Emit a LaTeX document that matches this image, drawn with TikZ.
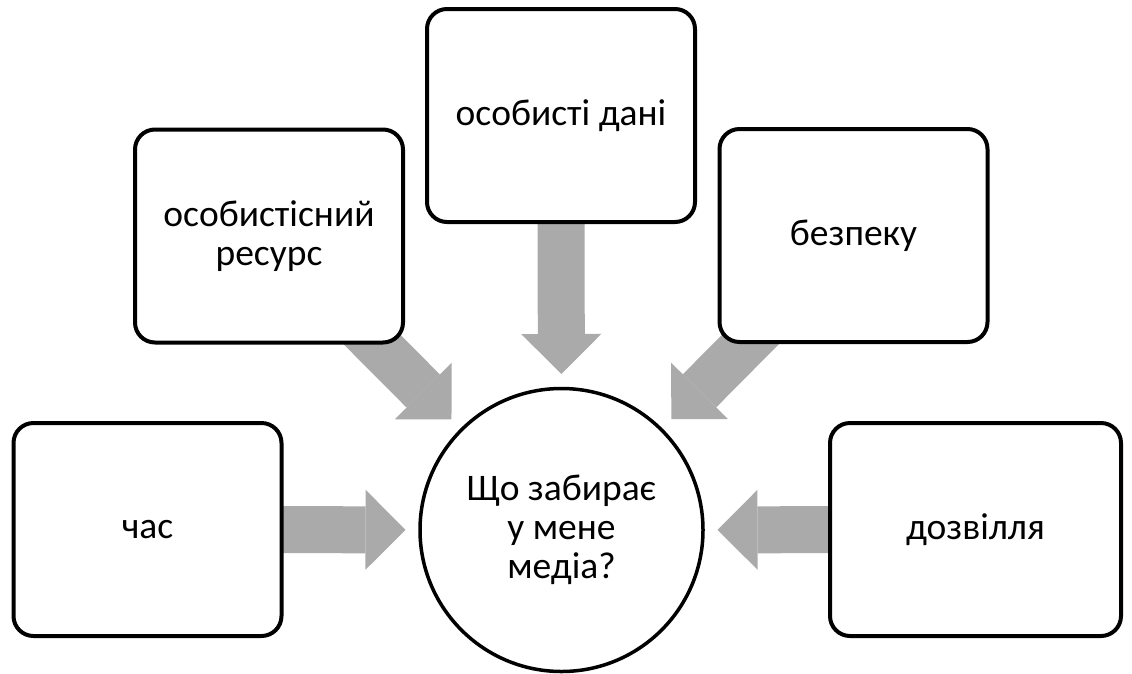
\documentclass[tikz,border=0pt]{standalone}
\usepackage{fontspec}
\setmainfont{Carlito}
\usetikzlibrary{arrows.meta, backgrounds}
\definecolor{arrowgray}{RGB}{170,170,170}
\newcommand{\mediafont}{\fontsize{37.5}{39}\selectfont}
\tikzset{
  box/.style={rectangle, draw=black, line width=4pt, fill=white,
              rounded corners=20pt, minimum width=268pt, minimum height=213pt,
              align=center, font=\mediafont},
  boxW/.style={box, minimum width=291pt},
  hub/.style={circle, draw=black, line width=3.5pt, fill=white,
              minimum size=283pt, inner sep=0pt, align=center, font=\mediafont},
  bigarrow/.style={draw=arrowgray, line width=47pt,
                   -{Triangle[length=40pt, width=80pt, line width=0pt]},
                   shorten >=156pt},
}

\begin{document}
\begin{tikzpicture}[x=1pt, y=-1pt]
  \useasboundingbox (0,0) rectangle (1132,673);

  % --- Nodes ---
  \node[hub] (hub) at (561.5,530) {Що забирає\\у мене\\медіа?};

  \node[box]  (time) at (147.5,529.5) {час};
  \node[box]  (self) at (269,236)     {особистісний\\ресурс};
  \node[box]  (data) at (561,115.5)   {особисті дані};
  \node[box]  (safe) at (853.5,235.5) {безпеку};
  \node[boxW] (free) at (975.5,529.5) {дозвілля};

  % --- Arrows ---
  \begin{scope}[on background layer]
    \draw[bigarrow] (time.center) -- (hub.center);
    \draw[bigarrow] (self.center) -- (hub.center);
    \draw[bigarrow] (data.center) -- (hub.center);
    \draw[bigarrow] (safe.center) -- (hub.center);
    \draw[bigarrow] (free.center) -- (hub.center);
  \end{scope}

\end{tikzpicture}
\end{document}
